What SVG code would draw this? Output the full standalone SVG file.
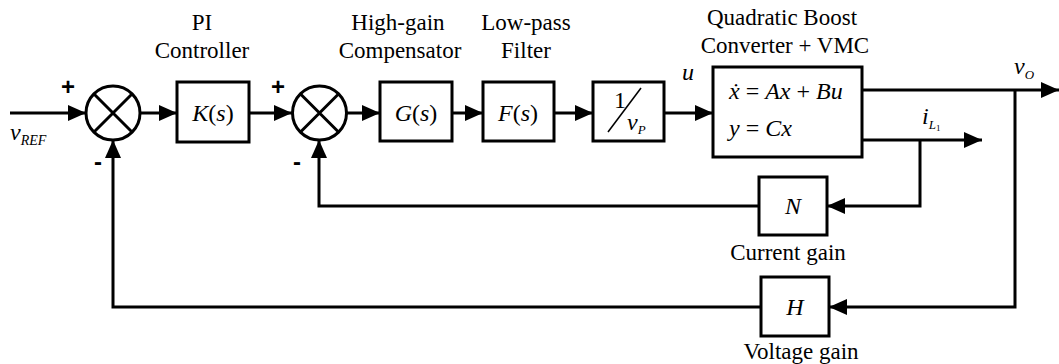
<svg xmlns="http://www.w3.org/2000/svg" width="1059" height="364" viewBox="0 0 1059 364">
<style>
.ln{fill:none;stroke:#000;stroke-width:3}
.bx{fill:#fff;stroke:#000;stroke-width:3}
.lab{font-size:23px;fill:#000}
.m{font-size:24px;fill:#000}
.i{font-style:italic}
.sg{font-family:"Liberation Sans",Arial,sans-serif;font-size:24px;font-weight:bold;fill:#000}
</style>
<defs>
<marker id="ah" markerUnits="userSpaceOnUse" markerWidth="20" markerHeight="18" refX="18" refY="8" orient="auto">
<path d="M0,0 L18,8 L0,16 z" fill="#000"/>
</marker>
</defs>
<g id="connectors">
<path class="ln" d="M10,113 H86" marker-end="url(#ah)"/>
<path class="ln" d="M140,113 H177" marker-end="url(#ah)"/>
<path class="ln" d="M249,113 H292" marker-end="url(#ah)"/>
<path class="ln" d="M347,113 H380" marker-end="url(#ah)"/>
<path class="ln" d="M452,113 H483" marker-end="url(#ah)"/>
<path class="ln" d="M554,113 H593" marker-end="url(#ah)"/>
<path class="ln" d="M664,113 H713" marker-end="url(#ah)"/>
<path class="ln" d="M862,90 H1059" marker-end="url(#ah)"/>
<path class="ln" d="M862,140 H982" marker-end="url(#ah)"/>
<path class="ln" d="M920,140 V206 H827" marker-end="url(#ah)"/>
<path class="ln" d="M1015,90 V307 H829" marker-end="url(#ah)"/>
<path class="ln" d="M759,206 H319 V140" marker-end="url(#ah)"/>
<path class="ln" d="M761,307 H113 V140" marker-end="url(#ah)"/>
</g>
<g id="labels" font-family="'Liberation Serif', 'DejaVu Serif', serif">
<g id="sum1">
<circle class="bx" cx="113" cy="113" r="27"/>
<path class="ln" d="M94,94 L132,132 M132,94 L94,132"/>
<text class="sg" x="68" y="95" text-anchor="middle">+</text>
<text class="sg" x="98" y="170" text-anchor="middle">-</text>
</g>
<g id="sum2">
<circle class="bx" cx="319.5" cy="113" r="27"/>
<path class="ln" d="M300.5,94 L338.5,132 M338.5,94 L300.5,132"/>
<text class="sg" x="278" y="95" text-anchor="middle">+</text>
<text class="sg" x="297" y="170" text-anchor="middle">-</text>
</g>
<g id="vref">
<text class="m i" x="10" y="140">v<tspan font-size="14" dy="5">REF</tspan></text>
</g>
<g id="K">
<rect class="bx" x="177" y="82" width="72" height="60"/>
<text class="m" x="213" y="121" text-anchor="middle"><tspan class="i">K</tspan>(<tspan class="i">s</tspan>)</text>
<text class="lab" x="202" y="30" text-anchor="middle">PI</text>
<text class="lab" x="202" y="58" text-anchor="middle">Controller</text>
</g>
<g id="G">
<rect class="bx" x="380" y="82" width="72" height="59"/>
<text class="m" x="416" y="121" text-anchor="middle"><tspan class="i">G</tspan>(<tspan class="i">s</tspan>)</text>
<text class="lab" x="398" y="30" text-anchor="middle">High-gain</text>
<text class="lab" x="400" y="58" text-anchor="middle">Compensator</text>
</g>
<g id="F">
<rect class="bx" x="483" y="82" width="71" height="59"/>
<text class="m" x="518" y="121" text-anchor="middle"><tspan class="i">F</tspan>(<tspan class="i">s</tspan>)</text>
<text class="lab" x="526" y="30" text-anchor="middle">Low-pass</text>
<text class="lab" x="526" y="58" text-anchor="middle">Filter</text>
</g>
<g id="gain">
<rect class="bx" x="593" y="82" width="71" height="59"/>
<text class="m" x="614" y="108">1</text>
<line x1="608" y1="132" x2="641" y2="88" stroke="#000" stroke-width="1.5"/>
<text class="m i" x="627" y="130">v<tspan font-size="13" dy="4">P</tspan></text>
</g>
<g id="plant">
<rect class="bx" x="713" y="67" width="149" height="90"/>
<text class="m i" x="729" y="99">ẋ<tspan font-style="normal"> = </tspan>Ax<tspan font-style="normal"> + </tspan>Bu</text>
<text class="m i" x="729" y="136">y<tspan font-style="normal"> = </tspan>Cx</text>
<text class="lab" x="782" y="25" text-anchor="middle">Quadratic Boost</text>
<text class="lab" x="785" y="53" text-anchor="middle">Converter + VMC</text>
<text class="m i" x="682" y="80">u</text>
</g>
<g id="outputs">
<text class="m i" x="1014" y="74">v<tspan font-size="13" dy="5">O</tspan></text>
<text class="m i" x="922" y="124">i<tspan font-size="13" dy="5">L</tspan><tspan font-size="9" font-style="normal" dy="2">1</tspan></text>
</g>
<g id="N">
<rect class="bx" x="759" y="177" width="68" height="58"/>
<text class="m i" x="793" y="214" text-anchor="middle">N</text>
<text class="lab" x="788" y="260" text-anchor="middle">Current gain</text>
</g>
<g id="H">
<rect class="bx" x="761" y="277" width="68" height="59"/>
<text class="m i" x="795" y="315" text-anchor="middle">H</text>
<text class="lab" x="801" y="359" text-anchor="middle">Voltage gain</text>
</g>
</g>
</svg>
